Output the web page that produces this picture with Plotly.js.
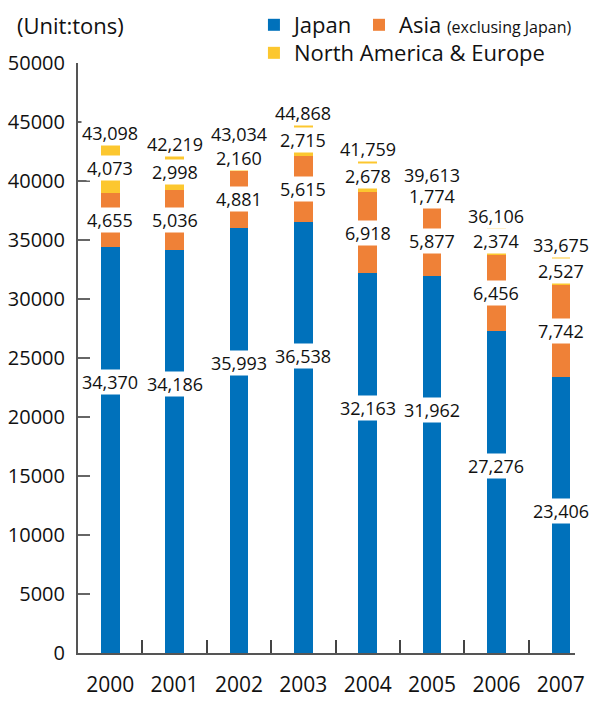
<!DOCTYPE html>
<html>
<head>
<meta charset="utf-8">
<script src="https://cdn.plot.ly/plotly-3.0.1.min.js"></script>
<style>html,body{margin:0;padding:0;background:#fff;}</style>
</head>
<body>
<div id="chart" style="width:589px;height:709px;"></div>
<script>
// ---- data ----
const years = ["2000", "2001", "2002", "2003", "2004", "2005", "2006", "2007"];
const japan = [34370, 34186, 35993, 36538, 32163, 31962, 27276, 23406];
const asia = [4655, 5036, 4881, 5615, 6918, 5877, 6456, 7742];
const naEurope = [4073, 2998, 2160, 2715, 2678, 1774, 2374, 2527];
const totals = [43098, 42219, 43034, 44868, 41759, 39613, 36106, 33675];
const yTicks = [0, 5000, 10000, 15000, 20000, 25000, 30000, 35000, 40000, 45000, 50000];

const FONT = '"Open Sans", "Noto Sans", sans-serif';
const fmt = v => v.toLocaleString('en-US');

const traces = [
  { type: 'bar', name: 'Japan', x: years, y: japan, marker: { color: '#0071BB' }, legend: 'legend' },
  { type: 'bar', name: 'Asia <span style="font-size:16px">(exclusing Japan)</span>', x: years, y: asia, marker: { color: '#EF8137' }, legend: 'legend3' },
  { type: 'bar', name: 'North America &amp; Europe', x: years, y: naEurope, marker: { color: '#FCC72F' }, legend: 'legend2' }
].map(t => Object.assign(t, { hoverinfo: 'skip' }));

const annotations = [];
function lab(i, yv, text, anchor, yshift) {
  annotations.push({
    x: i, y: yv, xref: 'x', yref: 'y', text: text, showarrow: false,
    xanchor: 'center', yanchor: anchor, yshift: yshift || 0,
    bgcolor: '#ffffff', borderpad: 0,
    font: { family: FONT, size: 18, color: '#111' }
  });
}
years.forEach((yr, i) => {
  const jTop = japan[i];
  const aTop = jTop + asia[i];
  const nTop = aTop + naEurope[i];
  lab(i, jTop - 11400, fmt(japan[i]), 'middle');
  lab(i, (jTop + aTop) / 2, fmt(asia[i]), 'middle');
  lab(i, (aTop + nTop) / 2, fmt(naEurope[i]), 'middle');
  lab(i, nTop, fmt(totals[i]), 'bottom', -2);
});
annotations.push({
  xref: 'paper', yref: 'paper', x: -0.127, y: 1.065, xanchor: 'left', yanchor: 'middle',
  text: '(Unit:tons)', showarrow: false, font: { family: FONT, size: 22, color: '#111' }
});

const legendBase = {
  orientation: 'h', traceorder: 'normal',
  xanchor: 'left', yanchor: 'top',
  font: { family: FONT, size: 22, color: '#111' },
  bgcolor: 'rgba(0,0,0,0)', itemclick: false, itemdoubleclick: false
};

const layout = {
  width: 589, height: 709,
  margin: { l: 78, r: 14, t: 63, b: 56, autoexpand: false },
  paper_bgcolor: '#ffffff', plot_bgcolor: '#ffffff',
  barmode: 'stack', bargap: 0.71,
  showlegend: true,
  legend: Object.assign({}, legendBase, { x: 0.354, y: 1.100 }),
  legend3: Object.assign({}, legendBase, { x: 0.5654, y: 1.100 }),
  legend2: Object.assign({}, legendBase, { x: 0.354, y: 1.0525 }),
  font: { family: FONT, color: '#111' },
  xaxis: {
    type: 'category', categoryorder: 'array', categoryarray: years,
    range: [-0.5, 7.22], fixedrange: true,
    showline: true, linecolor: '#555', linewidth: 2,
    ticks: 'inside', tickson: 'boundaries', ticklen: 13, tickwidth: 2, tickcolor: '#444',
    tickfont: { family: FONT, size: 21, color: '#111' },
    ticklabelstandoff: 12, showgrid: false, zeroline: false
  },
  yaxis: {
    range: [0, 50000], fixedrange: true,
    tickmode: 'array', tickvals: yTicks, ticktext: yTicks.map(String),
    showline: true, linecolor: '#555', linewidth: 2,
    ticks: 'inside', ticklen: 12, tickwidth: 2, tickcolor: '#666',
    tickfont: { family: FONT, size: 20, color: '#111' },
    ticklabelstandoff: 7, showgrid: false, zeroline: false
  },
  annotations: annotations
};

Plotly.newPlot('chart', traces, layout, { displayModeBar: false, staticPlot: true });
</script>
</body>
</html>
